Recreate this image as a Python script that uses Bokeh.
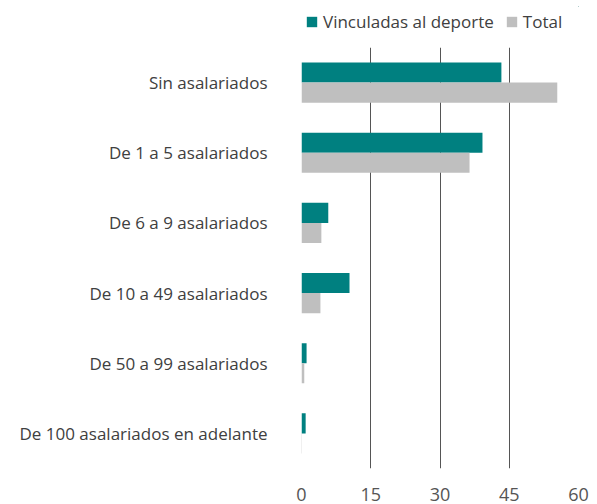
from bokeh.plotting import figure
from bokeh.layouts import column
from bokeh.models import ColumnDataSource, FactorRange, Legend, LegendItem, FixedTicker
from bokeh.transform import dodge
from bokeh.embed import file_html
from bokeh.resources import INLINE

categories = ["Sin asalariados", "De 1 a 5 asalariados", "De 6 a 9 asalariados",
              "De 10 a 49 asalariados", "De 50 a 99 asalariados",
              "De 100 asalariados en adelante"]
vinculadas = [43.3, 39.2, 5.8, 10.4, 1.1, 0.9]
total = [55.4, 36.4, 4.3, 4.1, 0.6, 0.1]
x_ticks = [0, 15, 30, 45, 60]
series_names = ["Vinculadas al deporte", "Total"]
series_colors = ["#008080", "#bfbfbf"]

src = ColumnDataSource(dict(cat=categories, v=vinculadas, t=total))

FONT = "Open Sans"
p = figure(width=593, height=457, output_backend="svg", toolbar_location=None,
           y_range=FactorRange(factors=list(reversed(categories)), range_padding=0),
           x_range=(0, 60),
           min_border_left=301, min_border_right=15, min_border_top=0, min_border_bottom=36)
p.outline_line_color = None

r1 = p.hbar(y=dodge("cat", 0.143, range=p.y_range), right="v", left=0, height=0.286,
            source=src, color=series_colors[0], line_color=None)
r2 = p.hbar(y=dodge("cat", -0.143, range=p.y_range), right="t", left=0, height=0.286,
            source=src, color=series_colors[1], line_color=None)

p.xaxis.ticker = FixedTicker(ticks=x_ticks)
p.xaxis.axis_line_color = None
p.xaxis.major_tick_line_color = None
p.xaxis.minor_tick_line_color = None
p.xaxis.major_label_text_font = FONT
p.xaxis.major_label_text_font_size = "18px"
p.xaxis.major_label_text_color = "#555555"
p.xaxis.major_label_standoff = 13

p.yaxis.axis_line_color = None
p.yaxis.major_tick_line_color = None
p.yaxis.minor_tick_line_color = None
p.yaxis.major_label_text_font = FONT
p.yaxis.major_label_text_font_size = "17px"
p.yaxis.major_label_text_color = "#404040"
p.yaxis.major_label_standoff = 28

p.ygrid.grid_line_color = None
p.xgrid.grid_line_color = "#555555"
p.xgrid.grid_line_width = 1

# legend strip above the chart (its sample bars lie outside its visible ranges)
lf = figure(width=593, height=47, output_backend="svg", toolbar_location=None,
            min_border_left=301, min_border_top=6, min_border_right=15, min_border_bottom=0,
            x_range=(-2, -1), y_range=(-2, -1))
lf.axis.visible = False
lf.grid.visible = False
lf.outline_line_color = None
l1 = lf.hbar(y="v", right="v", left=0, height=1, source=src,
             color=series_colors[0], line_color=None)
l2 = lf.hbar(y="t", right="t", left=0, height=1, source=src,
             color=series_colors[1], line_color=None)
legend = Legend(items=[LegendItem(label=series_names[0], renderers=[l1]),
                       LegendItem(label=series_names[1], renderers=[l2])],
                orientation="horizontal", location="top_left",
                label_text_font=FONT, label_text_font_size="17px",
                label_text_color="#404040", glyph_width=13, glyph_height=13,
                spacing=11, padding=4, margin=4, border_line_color=None,
                background_fill_alpha=0, label_standoff=5, label_height=18)
lf.add_layout(legend, "center")

layout = column(lf, p, spacing=0)
open("out.html", "w").write(file_html(layout, INLINE))
